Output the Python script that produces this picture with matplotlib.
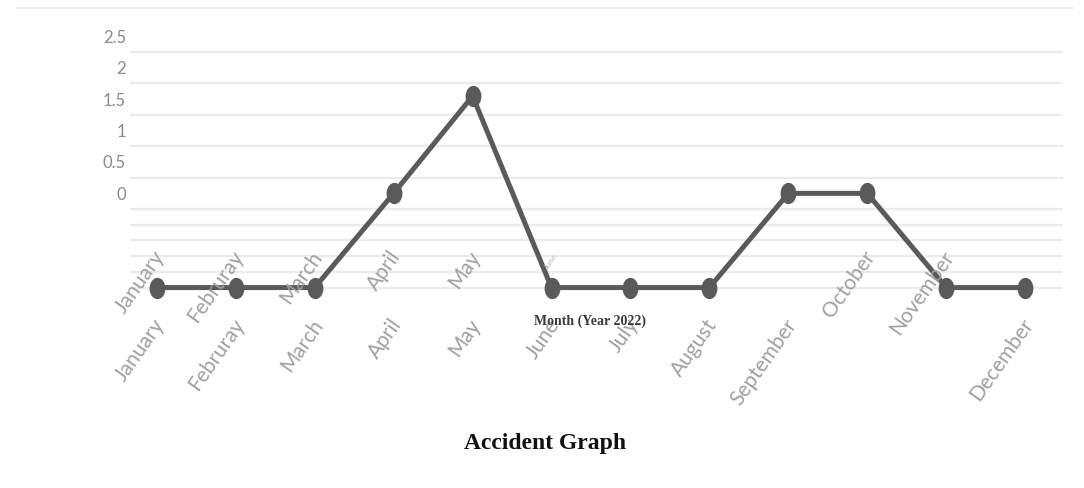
import matplotlib
matplotlib.use("Agg")
import matplotlib.pyplot as plt
from matplotlib.lines import Line2D
from matplotlib.markers import MarkerStyle
from matplotlib.transforms import Affine2D

months = ["January", "Februray", "March", "April", "May", "June", "July",
          "August", "September", "October", "November", "December"]
values = [-1.5, -1.5, -1.5, 0, 1.55, -1.5, -1.5, -1.5, 0, 0, -1.5, -1.5]
ytick_vals = [0, 0.5, 1, 1.5, 2, 2.5]
ytick_labels = ["0", "0.5", "1", "1.5", "2", "2.5"]
grid_vals = [-1.5, -1.25, -1.0, -0.75, -0.5, -0.25, 0, 0.25, 0.5, 0.75, 1.0,
             1.25, 1.5, 1.75, 2.0, 2.25]
upper_labels = ["January", "Februray", "March", "April", "May", "October", "November"]
lower_labels = ["January", "Februray", "March", "April", "May", "June", "July",
                "August", "September", "December"]

fig = plt.figure(figsize=(10.84, 4.88), dpi=100)
ax = fig.add_axes([130 / 1084, 0.385, 933 / 1084, 0.5533])
x = list(range(len(months)))
mk = MarkerStyle("o", transform=Affine2D().scale(0.8, 1.1))
ax.plot(x, values, color="#5a5a5a", lw=3.6, marker=mk, markersize=13,
        markerfacecolor="#5a5a5a", markeredgecolor="#5a5a5a", zorder=3)
ax.set_xlim(-0.34, 11.48)
ax.set_ylim(-1.7, 2.6)
ax.set_yticks(ytick_vals)
ax.set_yticklabels(ytick_labels, fontsize=12, color="#8a8a8a", family="Lato")
ax.set_yticks(grid_vals, minor=True)
ax.tick_params(axis="y", which="both", length=0, pad=3)
ax.grid(axis="y", which="minor", color="#ebebeb", lw=1.6)
ax.set_xticks([])
for s in ax.spines.values():
    s.set_visible(False)

lab_kw = dict(rotation=55, rotation_mode="anchor", ha="right", va="center",
              color="#a0a0a0", family="Lato", fontsize=15, clip_on=False)
for name in upper_labels:
    i = months.index(name)
    ax.text(i + 0.04, -0.95, name, **lab_kw)
# tiny faded June label in the upper row
ax.text(months.index("June") + 0.05, -0.98, "June", rotation=55, rotation_mode="anchor",
        ha="right", va="center", color="#b8b8b8", family="Lato", fontsize=6, clip_on=False)
for name in lower_labels:
    i = months.index(name)
    ax.text(i + 0.05, -2.03, name, **lab_kw)

fig.text(590 / 1084, 1 - 321 / 488, "Month (Year 2022)", ha="center", va="center",
         family="Liberation Serif", fontweight="bold", fontsize=10, color="#3a3a3a")
fig.text(545 / 1084, 1 - 443 / 488, "Accident Graph", ha="center", va="center",
         family="Liberation Serif", fontweight="bold", fontsize=17, color="#111111")
fig.add_artist(Line2D([0.015, 0.99], [0.983, 0.983], transform=fig.transFigure,
                      color="#ececec", lw=1.2))

fig.savefig("out.png", dpi=100)
